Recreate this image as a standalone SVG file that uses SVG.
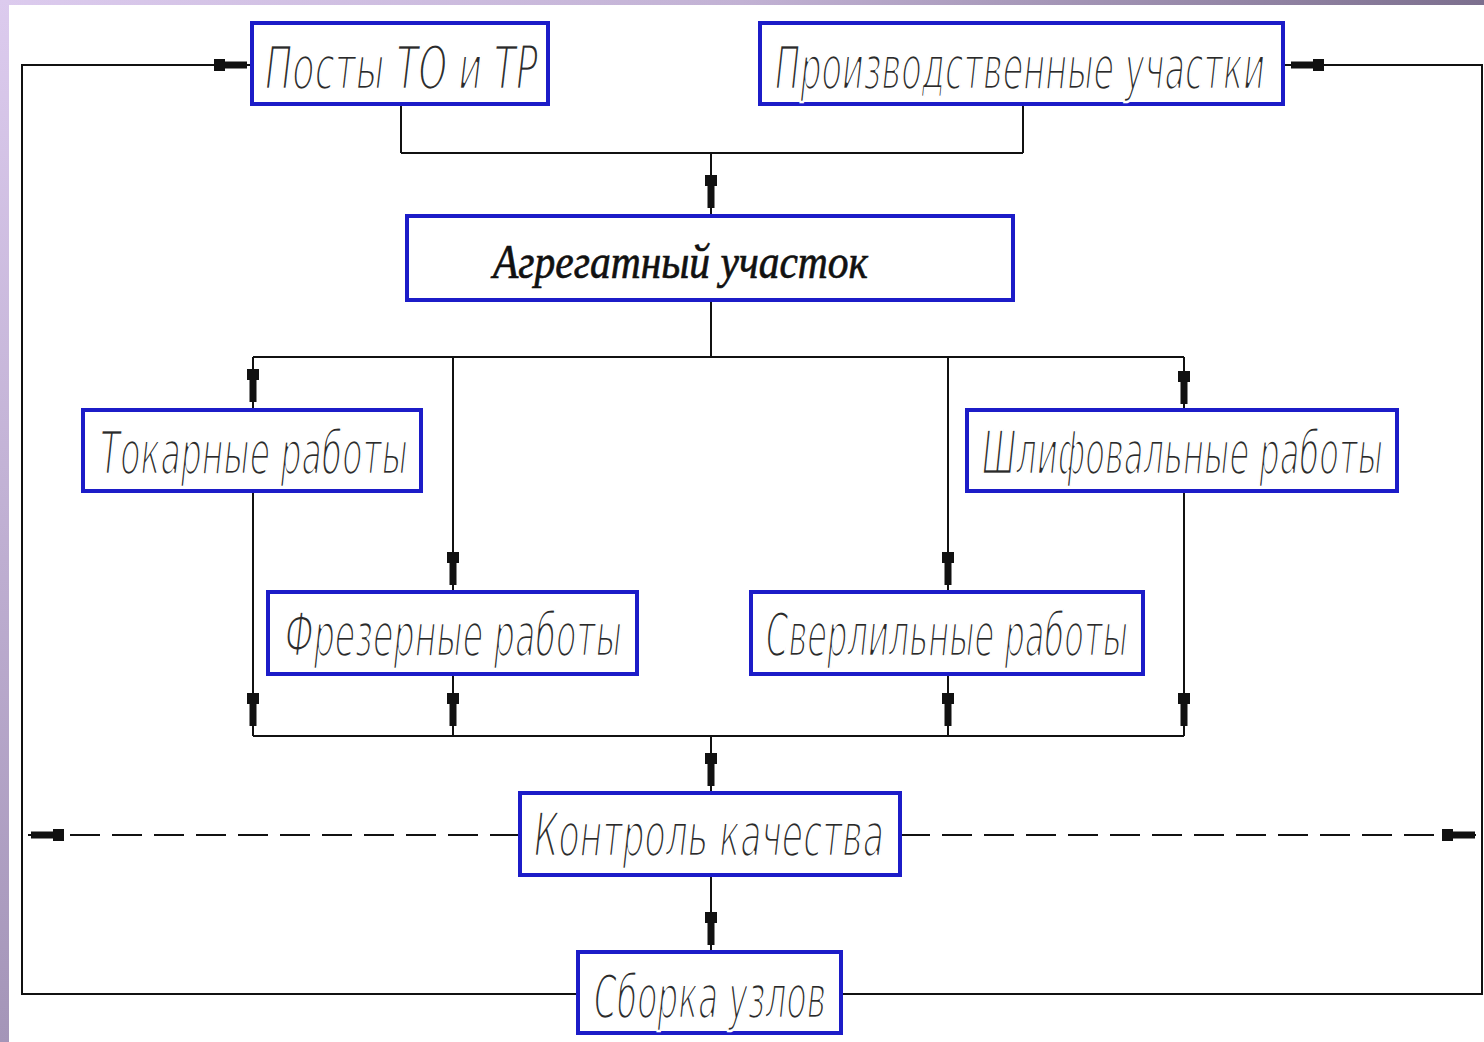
<svg xmlns="http://www.w3.org/2000/svg" xmlns:xlink="http://www.w3.org/1999/xlink" width="1484" height="1042" viewBox="0 0 1484 1042">
<defs>
<linearGradient id="gTop" x1="0" y1="0" x2="1" y2="0">
<stop offset="0" stop-color="#dccbee"/>
<stop offset="0.5" stop-color="#c2b2d4"/>
<stop offset="1" stop-color="#7c6f8e"/>
</linearGradient>
<linearGradient id="gLeft" x1="0" y1="0" x2="0" y2="1">
<stop offset="0" stop-color="#dccbee"/>
<stop offset="1" stop-color="#a495b8"/>
</linearGradient>
<path id="arr" d="M0,-3.5 L-22,-3.5 L-22,-6 L-33,-6 L-33,6 L-22,6 L-22,3.5 L0,3.5 Z" fill="#111"/>
<style>
.box{fill:#fff;stroke:#1c1cc8;stroke-width:4}
.ln{fill:none;stroke:#111;stroke-width:2}
.dash{fill:none;stroke:#111;stroke-width:2;stroke-dasharray:30 12}
.t{font-family:"DejaVu Sans","Liberation Sans",sans-serif;font-style:italic;font-size:60px;fill:#2a2a2a;stroke:#fff;stroke-width:2.6px;paint-order:fill stroke}
.ts{font-family:"Liberation Serif","DejaVu Serif",serif;font-style:italic;font-size:48px;fill:#111;stroke:#111;stroke-width:0.7px}
</style>
</defs>
<rect x="0" y="0" width="1484" height="1042" fill="#fff"/>
<rect x="0" y="0" width="1484" height="5" fill="url(#gTop)"/>
<rect x="0" y="0" width="9" height="1042" fill="url(#gLeft)"/>

<g id="connectors">
<path class="ln" d="M401,104 V153 M1023,104 V153 M401,153 H1023 M711,153 V216"/>
<path class="ln" d="M711,300 V357 M253,357 H1184 M253,357 V410 M453,357 V592 M948,357 V592 M1184,357 V410"/>
<path class="ln" d="M253,491 V736 M453,674 V736 M948,674 V736 M1184,491 V736 M253,736 H1184 M711,736 V793"/>
<path class="ln" d="M711,875 V952"/>
<path class="ln" d="M578,994 H22 V65 H252"/>
<path class="ln" d="M841,994 H1482 V65 H1283"/>
<path class="dash" d="M520,835 H22"/>
<path class="dash" d="M900,835 H1481"/>
<use xlink:href="#arr" href="#arr" transform="translate(247,65)"/>
<use xlink:href="#arr" href="#arr" transform="translate(1291,65) rotate(180)"/>
<use xlink:href="#arr" href="#arr" transform="translate(711,208) rotate(90)"/>
<use xlink:href="#arr" href="#arr" transform="translate(253,402) rotate(90)"/>
<use xlink:href="#arr" href="#arr" transform="translate(1184,404) rotate(90)"/>
<use xlink:href="#arr" href="#arr" transform="translate(453,585) rotate(90)"/>
<use xlink:href="#arr" href="#arr" transform="translate(948,585) rotate(90)"/>
<use xlink:href="#arr" href="#arr" transform="translate(253,726) rotate(90)"/>
<use xlink:href="#arr" href="#arr" transform="translate(453,726) rotate(90)"/>
<use xlink:href="#arr" href="#arr" transform="translate(948,726) rotate(90)"/>
<use xlink:href="#arr" href="#arr" transform="translate(1184,726) rotate(90)"/>
<use xlink:href="#arr" href="#arr" transform="translate(711,786) rotate(90)"/>
<use xlink:href="#arr" href="#arr" transform="translate(711,945) rotate(90)"/>
<use xlink:href="#arr" href="#arr" transform="translate(31,835) rotate(180)"/>
<use xlink:href="#arr" href="#arr" transform="translate(1475,835)"/>
</g>

<g id="n1"><rect class="box" x="252" y="23" width="296" height="81"/>
<text class="t" x="265" y="89" textLength="273" lengthAdjust="spacingAndGlyphs">Посты ТО и ТР</text></g>
<g id="n2"><rect class="box" x="760" y="23" width="523" height="81"/>
<text class="t" x="775" y="89" textLength="490" lengthAdjust="spacingAndGlyphs">Производственные участки</text></g>
<g id="n3"><rect class="box" x="407" y="216" width="606" height="84"/>
<text class="ts" x="493" y="278" textLength="375" lengthAdjust="spacingAndGlyphs">Агрегатный участок</text></g>
<g id="n4"><rect class="box" x="83" y="410" width="338" height="81"/>
<text class="t" x="100" y="474" textLength="308" lengthAdjust="spacingAndGlyphs">Токарные работы</text></g>
<g id="n5"><rect class="box" x="967" y="410" width="430" height="81"/>
<text class="t" x="982" y="474" textLength="401" lengthAdjust="spacingAndGlyphs">Шлифовальные работы</text></g>
<g id="n6"><rect class="box" x="268" y="592" width="369" height="82"/>
<text class="t" x="285" y="656" textLength="337" lengthAdjust="spacingAndGlyphs">Фрезерные работы</text></g>
<g id="n7"><rect class="box" x="751" y="592" width="392" height="82"/>
<text class="t" x="766" y="656" textLength="362" lengthAdjust="spacingAndGlyphs">Сверлильные работы</text></g>
<g id="n8"><rect class="box" x="520" y="793" width="380" height="82"/>
<text class="t" x="534" y="856" textLength="350" lengthAdjust="spacingAndGlyphs">Контроль качества</text></g>
<g id="n9"><rect class="box" x="578" y="952" width="263" height="81"/>
<text class="t" x="594" y="1018" textLength="232" lengthAdjust="spacingAndGlyphs">Сборка узлов</text></g>
</svg>
